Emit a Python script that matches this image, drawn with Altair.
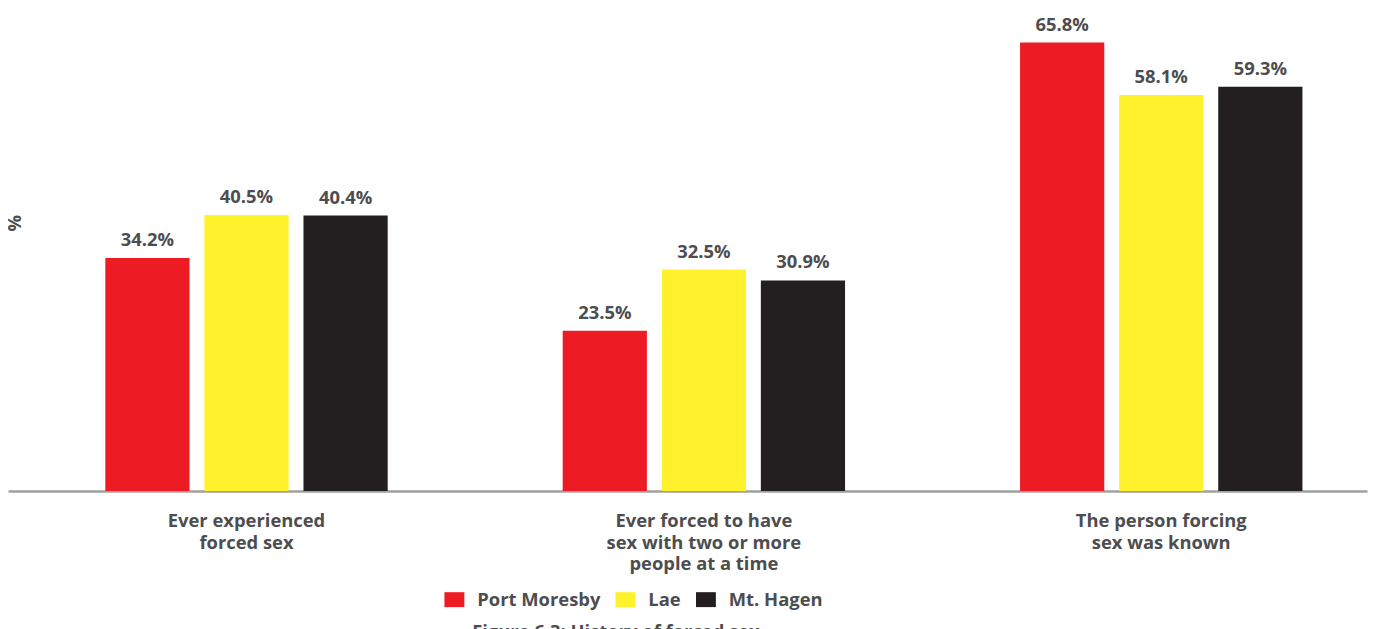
import altair as alt
import pandas as pd

categories = ["Ever experienced forced sex",
              "Ever forced to have sex with two or more people at a time",
              "The person forcing sex was known"]
cities = ["Port Moresby", "Lae", "Mt. Hagen"]
port_moresby = [34.2, 23.5, 65.8]
lae = [40.5, 32.5, 58.1]
mt_hagen = [40.4, 30.9, 59.3]
colors = ["#ED1C24", "#FFF22D", "#231F20"]

rows = []
for i, c in enumerate(categories):
    for city, vals in zip(cities, [port_moresby, lae, mt_hagen]):
        rows.append({"category": c, "city": city, "value": vals[i],
                     "label": f"{vals[i]:.1f}%"})
df = pd.DataFrame(rows)

label_expr = ("datum.label == 'Ever experienced forced sex' ? ['Ever experienced', 'forced sex'] : "
              "datum.label == 'The person forcing sex was known' ? ['The person forcing', 'sex was known'] : "
              "['Ever forced to have', 'sex with two or more', 'people at a time']")

FONT = "Open Sans"
GREY = "#4D4D4F"
FS = 18.5

x = alt.X("category:N", sort=categories,
          scale=alt.Scale(paddingInner=0.3826, paddingOuter=0.177, align=0.601),
          axis=alt.Axis(title=None, labelAngle=0, labelExpr=label_expr,
                        labelFont=FONT, labelFontSize=FS, labelFontWeight="bold",
                        labelColor=GREY, labelLineHeight=21.5, labelPadding=21,
                        labelLimit=0,
                        ticks=False, domainColor="#A0A0A0", domainWidth=2.5,
                        labelBaseline="top"))
xo = alt.XOffset("city:N", sort=cities, scale=alt.Scale(paddingInner=0.15))
y = alt.Y("value:Q", scale=alt.Scale(domain=[0, 70], nice=False),
          axis=alt.Axis(title="%", labels=False, ticks=False, domain=False, grid=False,
                        titleFont=FONT, titleFontSize=FS, titleFontWeight="bold",
                        titleColor=GREY, titleX=17, titleY=210, titleAngle=-90))

bars = alt.Chart(df).mark_bar().encode(
    x=x, xOffset=xo, y=y,
    color=alt.Color("city:N", sort=cities,
                    scale=alt.Scale(domain=cities, range=colors),
                    legend=alt.Legend(title=None, orient="none", direction="horizontal",
                                      legendX=439, legendY=579,
                                      symbolType="M-1,-0.75H1V0.75H-1Z", symbolSize=400,
                                      symbolStrokeWidth=0, symbolOpacity=1,
                                      labelFont=FONT, labelFontSize=FS, labelFontWeight="bold",
                                      labelColor=GREY, labelOffset=13, columnPadding=15))
)

texts = alt.Chart(df).mark_text(font=FONT, fontSize=FS, fontWeight="bold", color=GREY,
                                baseline="bottom", dy=-8).encode(
    x=x, xOffset=xo, y=y, text="label:N"
)

chart = alt.layer(bars, texts).properties(
    width=1367, height=480,
    autosize=alt.AutoSizeParams(type="none"),
    padding={"left": 0, "top": 4, "right": 8, "bottom": 150},
    title=alt.TitleParams("Figure 6.3: History of forced sex", orient="bottom",
                          font=FONT, fontSize=FS, fontWeight="bold", color=GREY,
                          offset=14, anchor="middle", dx=-72)
).configure_view(stroke=None)

chart.save("out.html", embed_options={"renderer": "svg", "actions": False})
